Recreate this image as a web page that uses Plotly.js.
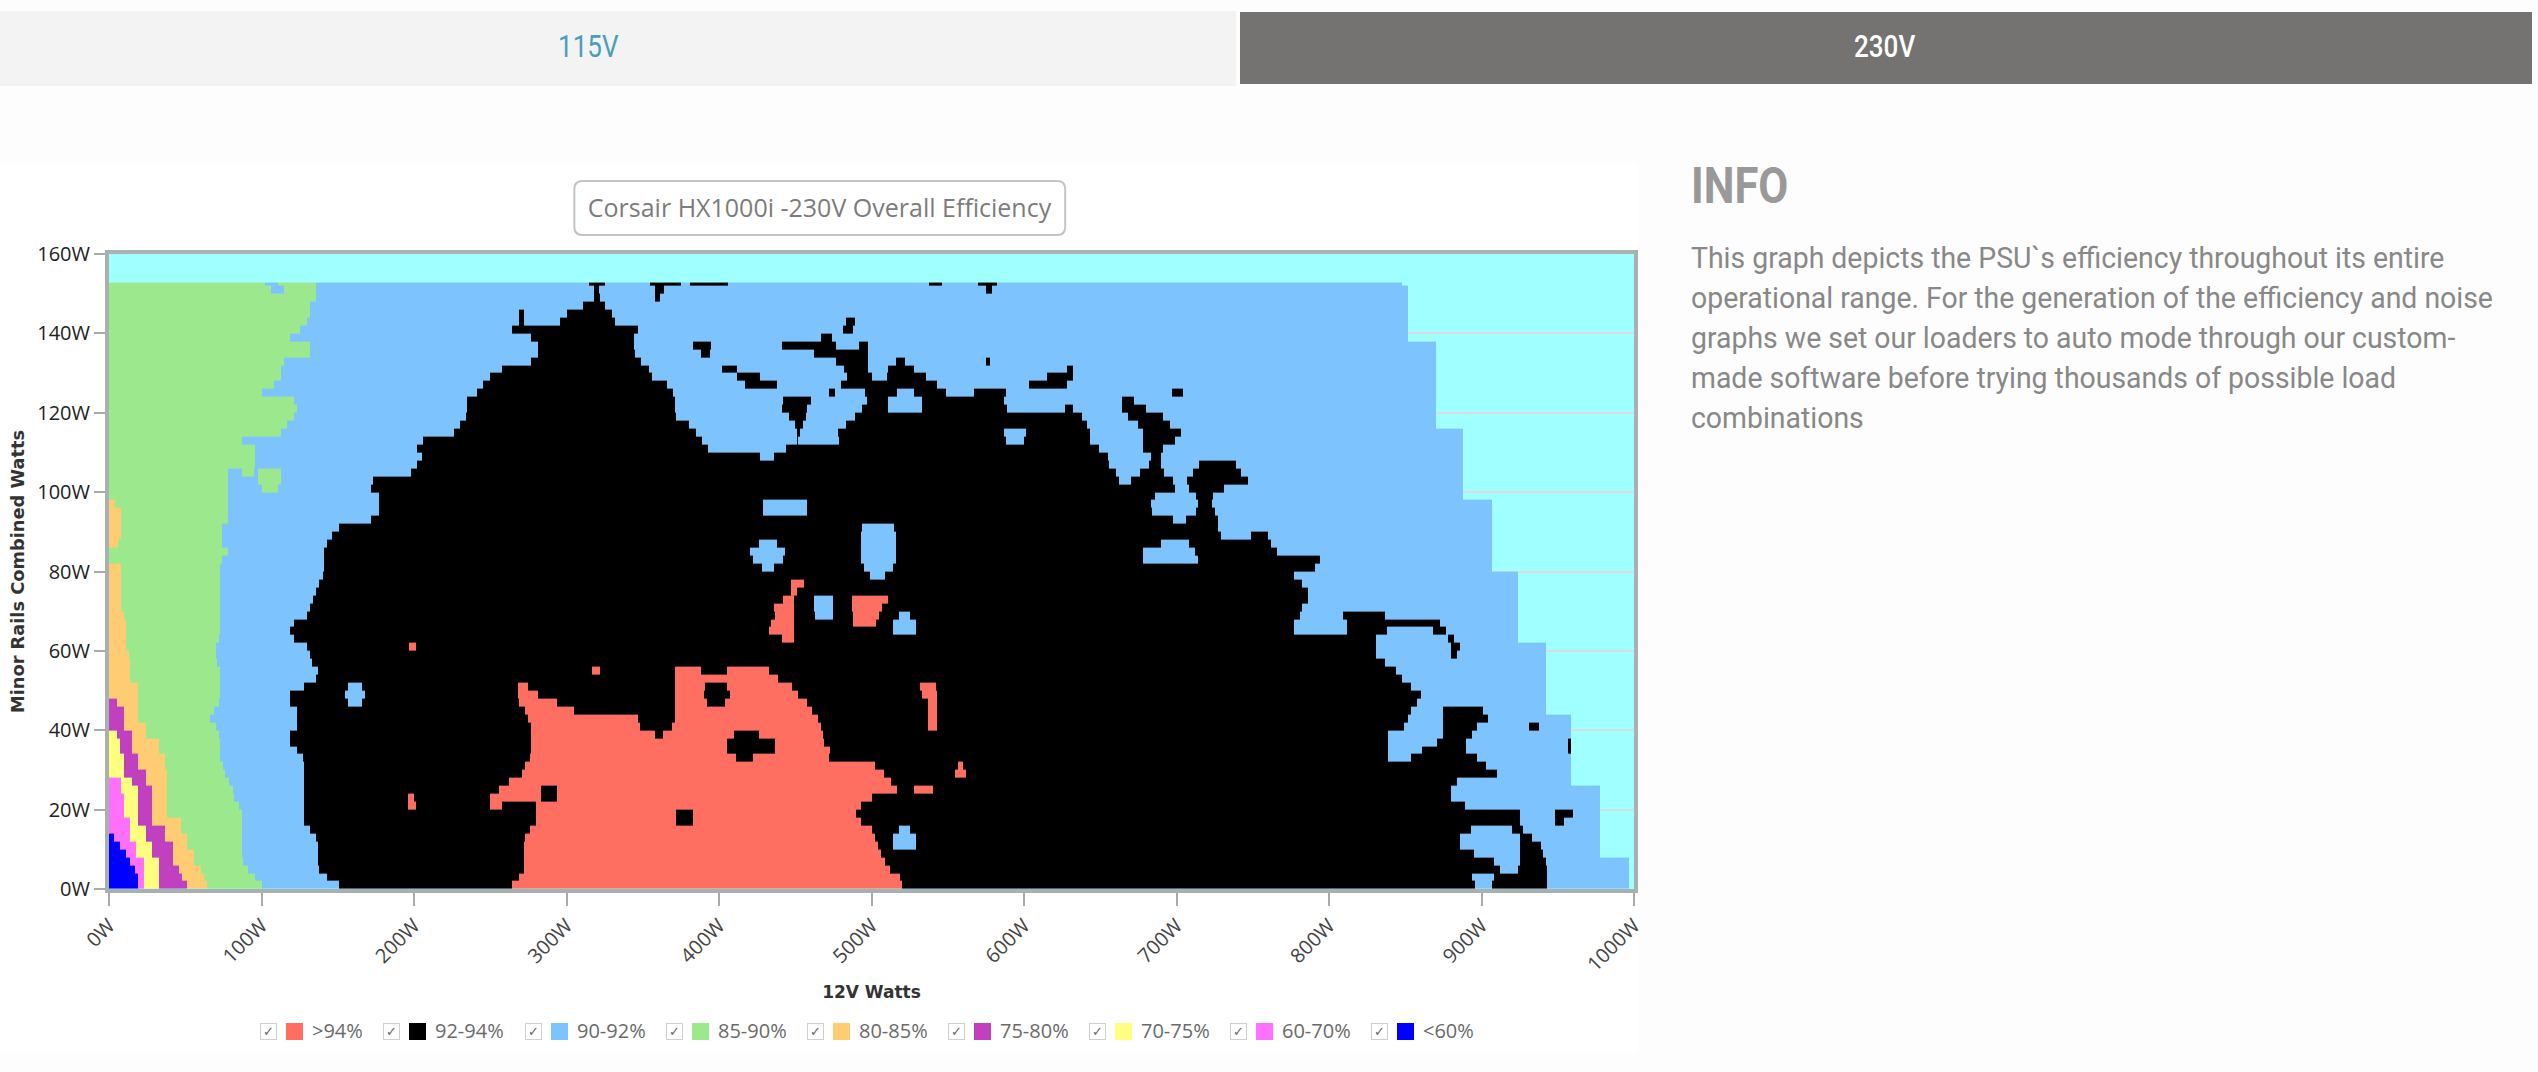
<!DOCTYPE html>
<html><head><meta charset="utf-8">
<script src="https://cdn.plot.ly/plotly-3.0.1.min.js"></script>
<style>
html,body{margin:0;padding:0;width:2538px;height:1072px;overflow:hidden;background:#fdfdfd;}
.abs{position:absolute;white-space:pre;}
.cond{transform-origin:left top;font-family:Roboto,sans-serif;}
</style></head><body>
<div class="abs" style="left:0;top:11px;width:1236px;height:75px;background:#f3f3f3"></div>
<div class="abs" style="left:1240px;top:12px;width:1292px;height:72px;background:#747372"></div>
<div class="abs" style="left:0;top:163px;width:1638px;height:890px;background:#fff"></div>
<div class="abs" id="chart" style="left:0;top:160px;width:1700px;height:890px"></div>
<div id="page"></div>
<script>
const categories = [">94%","92-94%","90-92%","85-90%","80-85%","75-80%","70-75%","60-70%","<60%"];
const colors = ["#ff6f61","#000000","#7dc4ff","#9be88d","#ffcc73","#c040c0","#ffff80","#ff70ff","#0000ff"];
const plotBg = "#a0ffff";
const yEdges = [0,2,4,6,8,10,12,14,16,18,20,22,24,26,28,30,32,34,36,38,40,42,44,46,48,50,52,54,56,58,60,62,64,66,68,70,72,74,76,78,80,82,84,86,88,90,92,94,96,98,100,102,104,106,108,110,112,114,116,118,120,122,124,126,128,130,132,134,136,138,140,142,144,146,148,150,152,152.8];
const xTicks = [0,100,200,300,400,500,600,700,800,900,1000];
const yTicks = [0,20,40,60,80,100,120,140,160];
// each row, bottom to top: category index, end watt, category index, end watt ... (beyond the last end: no reading)
const runs = [
[8,19,7,23,6,33,5,51,4,64,3,100,2,151,1,264,0,520,1,896,2,907,1,943,2,997],
[8,19,7,23,6,33,5,48,4,62,3,96,2,143,1,269,0,519,1,894,2,908,1,943,2,997],
[8,17,7,23,6,33,5,46,4,60,3,91,2,138,1,272,0,512,1,912,2,924,1,943,2,997],
[8,14,7,23,6,33,5,42,4,56,3,88,2,137,1,272,0,509,1,908,2,925,1,942,2,997],
[8,11,7,18,6,28,5,42,4,56,3,87,2,137,1,272,0,506,1,895,2,925,1,940,2,978],
[8,7,7,18,6,28,5,42,4,51,3,87,2,137,1,272,0,504,1,514,2,529,1,886,2,925,1,939,2,978],
[8,3,7,14,6,24,5,37,4,51,3,87,2,136,1,273,0,502,1,514,2,529,1,886,2,925,1,933,2,978],
[7,14,6,24,5,37,4,47,3,87,2,132,1,276,0,500,1,518,2,525,1,893,2,920,1,927,2,978],
[7,14,6,19,5,28,4,47,3,87,2,128,1,280,0,372,1,383,0,493,1,925,2,948,1,954,2,978],
[7,10,6,19,5,28,4,38,3,87,2,128,1,280,0,372,1,383,0,490,1,925,2,948,1,960,2,978],
[7,10,6,19,5,28,4,38,3,85,2,128,1,196,0,201,1,250,0,258,1,280,0,493,1,889,2,978],
[7,10,6,19,5,28,4,38,3,82,2,128,1,196,0,200,1,250,0,283,1,294,0,500,1,880,2,978],
[7,8,6,19,5,28,4,38,3,81,2,128,1,256,0,283,1,294,0,517,1,528,0,540,1,880,2,978],
[7,8,6,15,5,24,4,38,3,79,2,128,1,262,0,513,1,884,2,959],
[6,10,5,24,4,38,3,76,2,128,1,271,0,508,1,555,0,562,1,910,2,959],
[6,10,5,19,4,37,3,75,2,128,1,273,0,502,1,557,0,560,1,903,2,959],
[6,10,5,19,4,37,3,73,2,127,1,276,0,411,1,422,0,472,1,839,2,854,1,897,2,959],
[6,7,5,15,4,33,3,73,2,123,1,277,0,405,1,437,0,473,1,839,2,861,1,890,2,957,1,959],
[6,7,5,15,4,33,3,73,2,119,1,277,0,405,1,437,0,469,1,839,2,871,1,890,2,957,1,959],
[6,5,5,15,4,24,3,72,2,119,1,277,0,358,1,363,0,410,1,426,0,468,1,839,2,875,1,894,2,959],
[5,10,4,24,3,70,2,123,1,277,0,348,1,369,0,467,1,537,0,543,1,849,2,875,1,897,2,931,1,938,2,959],
[5,10,4,19,3,66,2,123,1,275,0,347,1,371,0,465,1,537,0,543,1,852,2,875,1,904,2,959],
[5,10,4,19,3,69,2,123,1,273,0,305,1,371,0,461,1,537,0,543,1,854,2,875,1,901,2,942],
[5,5,4,19,3,72,2,119,1,157,2,166,1,269,0,294,1,371,0,392,1,404,0,458,1,537,0,543,1,858,2,942],
[4,19,3,73,2,119,1,155,2,168,1,268,0,281,1,371,0,390,1,407,0,452,1,533,0,543,1,860,2,942],
[4,19,3,73,2,128,1,157,2,166,1,268,0,275,1,371,0,391,1,405,0,448,1,532,0,542,1,854,2,942],
[4,14,3,73,2,136,1,371,0,439,1,848,2,942],
[4,14,3,73,2,137,1,317,0,322,1,371,0,388,1,405,0,433,1,844,2,942],
[4,14,3,71,2,133,1,837,2,942],
[4,13,3,70,2,132,1,831,2,880,1,884,2,942],
[4,11,3,70,2,130,1,197,0,201,1,831,2,880,1,886,2,942],
[4,11,3,72,2,121,1,441,0,449,1,831,2,878,1,882,2,924],
[4,11,3,73,2,119,1,433,0,449,1,514,2,529,1,777,2,812,1,838,2,868,1,877,2,924],
[4,11,3,73,2,121,1,434,0,449,1,488,0,503,1,514,2,529,1,777,2,812,1,873,2,924],
[4,10,3,73,2,130,1,437,0,449,1,463,2,475,1,488,0,505,1,518,2,525,1,781,2,809,1,837,2,924],
[4,8,3,73,2,132,1,436,0,449,1,462,2,475,1,487,0,507,1,782,2,924],
[4,8,3,73,2,134,1,442,0,449,1,462,2,475,1,487,0,511,1,786,2,924],
[4,8,3,73,2,136,1,447,0,451,1,786,2,924],
[4,8,3,73,2,138,1,447,0,456,1,782,2,924],
[4,8,3,73,2,140,1,499,2,509,1,777,2,924],
[4,8,3,73,2,141,1,428,2,436,1,495,2,514,1,791,2,907],
[3,74,2,141,1,422,2,442,1,493,2,516,1,678,2,714,1,794,2,907],
[3,78,2,141,1,420,2,443,1,493,2,516,1,678,2,712,1,766,2,907],
[4,6,3,74,2,143,1,426,2,438,1,493,2,516,1,690,2,708,1,762,2,907],
[4,8,3,74,2,146,1,493,2,516,1,729,2,749,1,760,2,907],
[4,8,3,74,2,151,1,494,2,515,1,727,2,907],
[4,8,3,78,2,172,1,698,2,706,1,727,2,907],
[4,8,3,78,2,177,1,429,2,458,1,684,2,713,1,725,2,907],
[4,4,3,78,2,177,1,429,2,458,1,683,2,714,1,723,2,907],
[3,78,2,177,1,686,2,713,1,724,2,888],
[3,78,2,100,3,111,2,172,1,699,2,708,1,731,2,888],
[3,78,2,98,3,113,2,173,1,662,2,670,1,698,2,707,1,747,2,888],
[3,78,2,87,3,95,2,98,3,113,2,198,1,660,2,676,1,692,2,711,1,742,2,888],
[3,96,2,202,1,656,2,682,1,690,2,715,1,739,2,888],
[3,96,2,205,1,427,2,436,1,655,2,683,1,690,2,888],
[3,96,2,202,1,393,2,444,1,649,2,678,1,691,2,888],
[3,87,2,206,1,389,2,451,1,452,2,479,1,588,2,600,1,643,2,678,1,699,2,888],
[3,113,2,226,1,385,2,451,1,453,2,478,1,587,2,601,1,643,2,678,1,703,2,888],
[3,117,2,230,1,380,2,450,1,455,2,483,1,641,2,675,1,696,2,870],
[3,121,2,234,1,372,2,446,1,457,2,489,1,638,2,668,1,691,2,870],
[3,123,2,235,1,371,2,441,1,458,2,494,1,511,2,533,1,589,2,627,1,632,2,664,1,680,2,870],
[3,121,2,235,1,371,2,442,1,460,2,497,1,511,2,533,1,587,2,664,1,672,2,870],
[3,100,2,241,1,370,2,472,1,476,2,496,1,517,2,528,1,549,2,567,1,588,2,697,1,704,2,870],
[3,108,2,245,1,366,2,417,1,438,2,480,1,543,2,603,1,628,2,870],
[3,113,2,250,1,356,2,412,1,427,2,484,1,500,2,510,1,536,2,615,1,632,2,870],
[3,113,2,258,1,354,2,402,1,412,2,482,1,498,2,511,1,528,2,628,1,632,2,870],
[3,115,2,277,1,349,2,477,1,498,2,516,1,522,2,575,1,578,2,870],
[3,132,2,281,1,345,2,388,1,394,2,462,1,498,2,870],
[3,132,2,281,1,344,2,383,1,395,2,441,1,477,2,492,1,498,2,870],
[3,119,2,277,1,344,2,467,1,474,2,852],
[3,125,2,264,1,347,2,481,1,488,2,852],
[3,130,2,269,1,272,2,296,1,332,2,483,1,489,2,852],
[3,132,2,269,1,272,2,300,1,330,2,852],
[3,132,2,311,1,325,2,852],
[3,136,2,318,1,322,2,358,1,361,2,852],
[3,106,2,115,3,136,2,318,1,321,2,358,1,364,2,575,1,579,2,852],
[3,102,2,111,3,136,2,315,1,325,2,355,1,375,2,381,1,406,2,538,1,546,2,570,1,582,2,848]
];
const titleText = "Corsair HX1000i -230V Overall Efficiency";
const tabLabels = ["115V","230V"];
const infoHead = "INFO";
const infoLines = ["This graph depicts the PSU`s efficiency throughout its entire",
"operational range. For the generation of the efficiency and noise",
"graphs we set our loaders to auto mode through our custom-",
"made software before trying thousands of possible load",
"combinations"];
const legendX = [260,383,525,666,807,948,1089,1230,1371];

const xEdges = Array.from({length:1001},(_,i)=>i);
const z = runs.map(r=>{
  const row = new Array(1000).fill(null); let s=0;
  for(let k=0;k<r.length;k+=2){ for(let i=s;i<r[k+1];i++) row[i]=r[k]; s=r[k+1]; }
  return row;
});
const n = categories.length, cs=[];
colors.forEach((c,i)=>{cs.push([i/n,c]);cs.push([(i+1)/n,c]);});

const W=1700,H=890,ml=108.5,mr=66,mt=94,mb=161;
function px(x){return (x-ml)/(W-ml-mr);} function py(y){return 1-(y-mt)/(H-mt-mb);}
const bx0=574,bx1=1065,by0=21,by1=75,rr=8;
const boxPath = `M ${px(bx0+rr)} ${py(by0)} L ${px(bx1-rr)} ${py(by0)} Q ${px(bx1)} ${py(by0)} ${px(bx1)} ${py(by0+rr)} L ${px(bx1)} ${py(by1-rr)} Q ${px(bx1)} ${py(by1)} ${px(bx1-rr)} ${py(by1)} L ${px(bx0+rr)} ${py(by1)} Q ${px(bx0)} ${py(by1)} ${px(bx0)} ${py(by1-rr)} L ${px(bx0)} ${py(by0+rr)} Q ${px(bx0)} ${py(by0)} ${px(bx0+rr)} ${py(by0)} Z`;

Plotly.newPlot("chart",[{
  type:"heatmap",x:xEdges,y:yEdges,z:z,zmin:0,zmax:n,
  colorscale:cs,showscale:false,hoverongaps:false
}],{
  width:W,height:H,margin:{l:ml,r:mr,t:mt,b:mb,pad:0},
  paper_bgcolor:"rgba(0,0,0,0)",plot_bgcolor:plotBg,
  title:{text:titleText,font:{family:"Open Sans, sans-serif",size:25,color:"#7c7c7c"},
         x:(bx0+bx1)/2/W,xanchor:"center",y:1-(by0+by1)/2/H,yanchor:"middle"},
  font:{family:"Open Sans, sans-serif"},
  shapes:[{type:"path",xref:"paper",yref:"paper",path:boxPath,line:{color:"#c4c4c4",width:2},fillcolor:"rgba(0,0,0,0)"}],
  xaxis:{range:[0,1000],tickmode:"array",tickvals:xTicks,ticktext:xTicks.map(v=>v+"W"),tickangle:-45,
    ticks:"outside",ticklen:13,tickwidth:2,tickcolor:"#aaaaaa",showgrid:false,zeroline:false,
    showline:true,mirror:true,linecolor:"#a8b0b0",linewidth:4,layer:"above traces",
    tickfont:{family:"Open Sans, sans-serif",size:20,color:"#444"},
    title:{text:"12V Watts",font:{family:"DejaVu Sans, sans-serif",size:17,color:"#333",weight:700},standoff:11}},
  yaxis:{range:[0,160],tickmode:"array",tickvals:yTicks,ticktext:yTicks.map(v=>v+"W"),
    ticks:"outside",ticklen:11,tickwidth:2,tickcolor:"#aaaaaa",showgrid:true,gridcolor:"#dcdcdc",gridwidth:2,zeroline:false,
    showline:true,mirror:true,linecolor:"#a8b0b0",linewidth:4,layer:"above traces",
    tickfont:{family:"Open Sans, sans-serif",size:20,color:"#222"},
    title:{text:"Minor Rails Combined Watts",font:{family:"DejaVu Sans, sans-serif",size:17.8,color:"#333",weight:700},standoff:9}}
},{displayModeBar:false,staticPlot:true});

const page=document.getElementById("page");
function text(t,left,top,size,color,weight,sx){
  const d=document.createElement("div");d.className="abs cond";d.textContent=t;
  d.style.cssText+=`left:${left}px;top:${top}px;font-size:${size}px;color:${color};font-weight:${weight};transform:scaleX(${sx});line-height:1;`;
  page.appendChild(d);return d;
}
text(tabLabels[0],558,31,31,"#4a9dbb",400,0.84);
text(tabLabels[1],1854,31,31,"#ffffff",500,0.84);
text(infoHead,1691,161,50,"#999999",700,0.87);
infoLines.forEach((l,i)=>text(l,1691,243+40*i,30,"#888888",400,0.947));
categories.forEach((c,i)=>{
  const x=legendX[i];
  const b=document.createElement("div");b.className="abs";
  b.style.cssText+=`left:${x}px;top:1023px;width:15px;height:15px;border:1px solid #cfcfcf;background:#fff;color:#666;font:13px/15px 'DejaVu Sans';text-align:center;`;
  b.textContent="\u2713";page.appendChild(b);
  const s=document.createElement("div");s.className="abs";
  s.style.cssText+=`left:${x+26}px;top:1023px;width:17px;height:17px;background:${colors[i]};`;page.appendChild(s);
  const t=document.createElement("div");t.className="abs";t.textContent=c;
  t.style.cssText+=`left:${x+52}px;top:1018px;font:20px/26px 'Open Sans';color:#6a6a6a;`;page.appendChild(t);
});
</script></body></html>
